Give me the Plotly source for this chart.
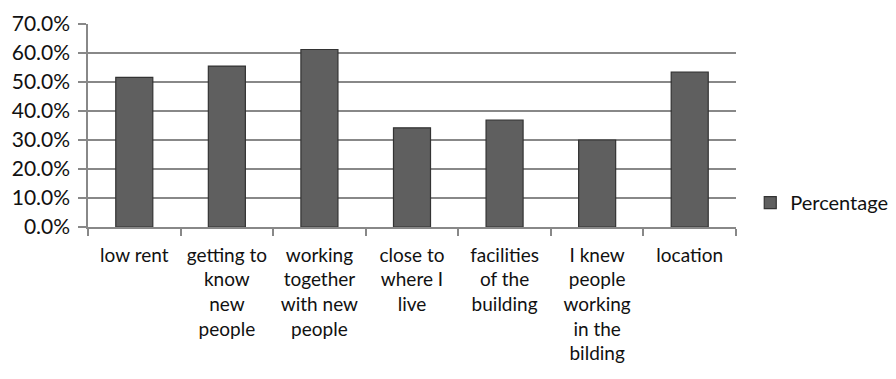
import plotly.graph_objects as go

categories = [
    "low rent",
    "getting to<br>know<br>new<br>people",
    "working<br>together<br>with new<br>people",
    "close to<br>where I<br>live",
    "facilities<br>of the<br>building",
    "I knew<br>people<br>working<br>in the<br>bilding",
    "location",
]
values = [0.516, 0.555, 0.612, 0.342, 0.369, 0.300, 0.534]
series_name = "Percentage"
y_ticks = [0, 0.1, 0.2, 0.3, 0.4, 0.5, 0.6, 0.7]

fig = go.Figure()
fig.add_trace(go.Bar(
    x=categories, y=values, name=series_name,
    marker=dict(color="#5f5f5f", line=dict(color="#333333", width=1.2)),
    showlegend=True,
))

fig.update_layout(
    width=896, height=379,
    margin=dict(l=88, r=160, t=24, b=152, autoexpand=False),
    paper_bgcolor="white", plot_bgcolor="white",
    bargap=0.6,
    font=dict(family="Lato", color="#111111"),
    legend=dict(
        x=1.022, xanchor="left", y=0.12, yanchor="middle",
        font=dict(size=20, family="Lato"),
        bgcolor="rgba(0,0,0,0)",
        itemwidth=30,
    ),
)
fig.update_xaxes(
    type="category", tickson="boundaries", ticks="outside", ticklen=7,
    tickcolor="#888888", tickwidth=1.5,
    showline=True, linecolor="#888888", linewidth=1.5,
    showgrid=False, tickangle=0,
    ticklabelstandoff=10, automargin=False,
    tickfont=dict(size=19, family="Lato", color="#111111"),
)
fig.update_yaxes(
    range=[0, 0.7], tickvals=y_ticks, tickformat=".1%",
    ticks="outside", ticklen=8, tickcolor="#888888", tickwidth=1.5,
    showline=True, linecolor="#888888", linewidth=1.5,
    showgrid=True, gridcolor="#888888", gridwidth=1.5,
    zeroline=False, automargin=False,
    ticklabelstandoff=4,
    tickfont=dict(size=21, family="Lato", color="#111111"),
)

fig.write_html("out.html")
